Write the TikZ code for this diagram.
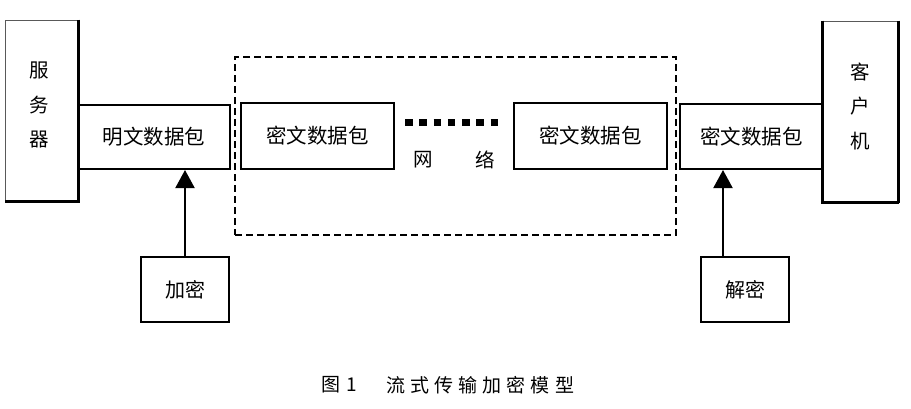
\documentclass[tikz,border=0pt]{standalone}
\usepackage{fontspec}
\setmainfont{Noto Sans CJK SC}
\newfontfamily\capfont[LetterSpace=27]{Noto Sans CJK SC}
\usetikzlibrary{arrows.meta}
\tikzset{
  pkt/.style={draw, line width=2pt, inner sep=0pt, font=\fontsize{20.5}{24}\selectfont},
  side/.style={align=center, inner sep=0pt, font=\fontsize{19.5}{34.5}\selectfont},
  uparrow/.style={line width=2pt, -{Triangle[width=19pt,length=18pt]}},
  endbox/.style={draw=black!65, line width=1pt, inner sep=0pt},
}
\begin{document}
\begin{tikzpicture}[x=1pt,y=-1pt]
\useasboundingbox (0,0) rectangle (911,408);
% network dashed area
\node[draw, line width=1.8pt, dash pattern=on 7pt off 4pt, minimum width=441pt, minimum height=178pt, inner sep=0pt] (net) at (455.5,146) {};
% server
\node[endbox, minimum width=73pt, minimum height=181pt] (server) at (41.5,110.5) {};
\draw[line width=2.5pt] (server.north east) -- (server.south east) -- (server.south west);
\node[side] (serverlbl) at (39,105) {服\\务\\器};
% client
\node[endbox, minimum width=75pt, minimum height=181pt] (client) at (860.5,111.5) {};
\draw[line width=2.5pt] (client.north west) -- (client.south west) -- (client.south east);
\draw[line width=3.5pt] (client.north east) -- (client.south east);
\node[side] (clientlbl) at (860,106) {客\\户\\机};
% packets
\node[pkt, minimum width=152pt, minimum height=64pt] (plain) at (154,137) {明文数据包};
\node[pkt, minimum width=153pt, minimum height=66pt] (cipherA) at (317.5,136) {密文数据包};
\node[pkt, minimum width=153pt, minimum height=66pt] (cipherB) at (590.5,136) {密文数据包};
\node[pkt, minimum width=143pt, minimum height=65pt] (cipherC) at (751.5,136.5) {密文数据包};
% network dots and label
\coordinate (dotA) at (405,122);
\coordinate (dotB) at (498,122);
\draw[line width=7pt, dash pattern=on 7.5pt off 6.75pt] (dotA) -- (dotB);
\node[font=\fontsize{19.5}{22}\selectfont, inner sep=0pt] (wang) at (423,160) {网};
\node[font=\fontsize{19.5}{22}\selectfont, inner sep=0pt] (luo) at (485,160) {络};
% encrypt / decrypt
\node[pkt, minimum width=88pt, minimum height=65pt, font=\fontsize{20}{22}\selectfont] (enc) at (185,289.5) {加密};
\node[pkt, minimum width=88pt, minimum height=65pt, font=\fontsize{20}{22}\selectfont] (dec) at (745,289.5) {解密};
\coordinate (decarr) at ([xshift=-22pt]dec.north);
\draw[uparrow] (enc.north) -- (enc.north |- plain.south);
\draw[uparrow] (decarr) -- (decarr |- cipherC.south);
% caption
\node[anchor=west, inner sep=0pt, font=\fontsize{19}{22}\selectfont] (capA) at (321,385) {图\hspace{6pt}1};
\node[anchor=west, inner sep=0pt, font=\fontsize{19}{22}\selectfont\capfont] (capB) at (386,385) {流式传输加密模型};
\end{tikzpicture}
\end{document}
